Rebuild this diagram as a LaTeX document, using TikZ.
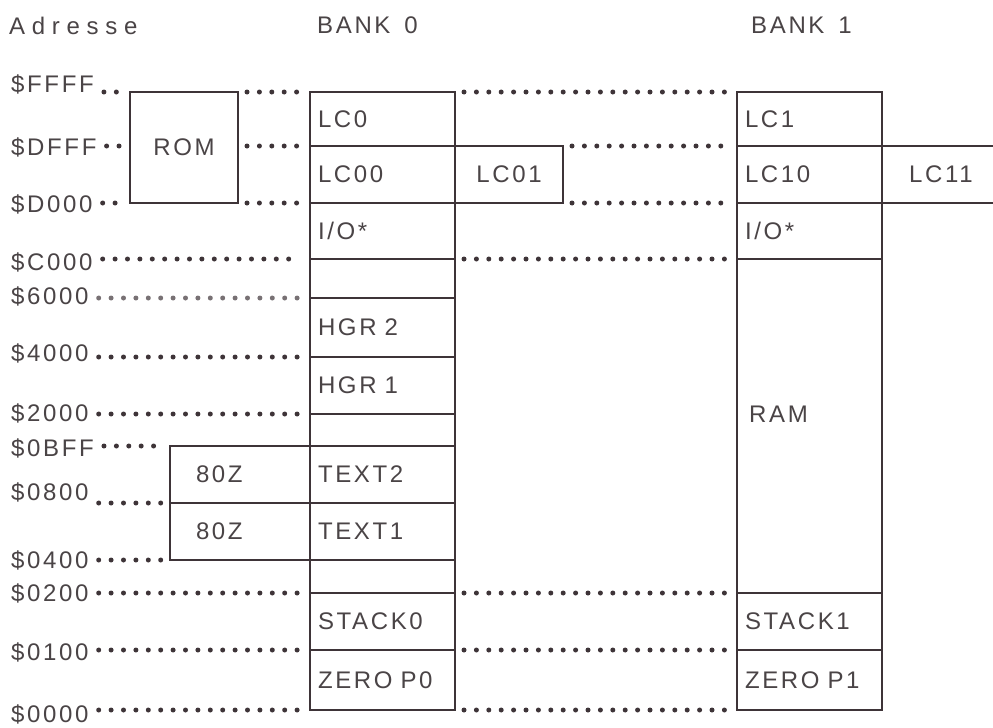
\documentclass[tikz,border=0pt]{standalone}
\usepackage{fontspec}
\setmainfont{Liberation Sans}[LetterSpace=11]
\newfontfamily\wideff{Liberation Sans}[LetterSpace=28]
\newcommand\labfont{\fontsize{24}{28}\selectfont}
\definecolor{lc}{RGB}{62,52,56}
\definecolor{tc}{RGB}{74,68,70}
\begin{document}
\begin{tikzpicture}[x=1pt,y=-1pt]
\tikzset{
 box/.style={draw=lc, line width=2pt, rectangle, inner sep=0pt, outer sep=0pt, font=\labfont, text=tc},
 cell/.style={box, anchor=north west, text width=129pt, inner xsep=8pt, align=left},
 cbox/.style={box, anchor=north west, align=center},
 zbox/.style={box, anchor=north west, minimum width=140pt, minimum height=57pt, text width=88pt, inner xsep=26pt, align=left},
 addr/.style={anchor=west, font=\labfont, text=tc, inner sep=1pt},
 dotl/.style={draw=lc, line width=5pt, line cap=round, dash pattern=on 0pt off 12.4pt, shorten <=9pt, shorten >=9pt},
 rule/.style={draw=lc, line width=2pt},
}
\fill[white] (0,0) rectangle (993,728);
\useasboundingbox (0,0) rectangle (993,728);

% headers
\node[addr, font=\labfont\wideff] (hadr) at (8,26) {Adresse};
\node[addr] (hb0) at (316,25) {BANK\hspace{14pt}0};
\node[addr] (hb1) at (750,25) {BANK\hspace{14pt}1};

% address labels
\node[addr] (aFFFF) at (10,84) {\$FFFF};
\node[addr] (aDFFF) at (10,147) {\$DFFF};
\node[addr] (aD000) at (10,204) {\$D000};
\node[addr] (aC000) at (10,262) {\$C000};
\node[addr] (a6000) at (10,296) {\$6000};
\node[addr] (a4000) at (10,353) {\$4000};
\node[addr] (a2000) at (10,413) {\$2000};
\node[addr] (a0BFF) at (10,448) {\$0BFF};
\node[addr] (a0800) at (10,492) {\$0800};
\node[addr] (a0400) at (10,560) {\$0400};
\node[addr] (a0200) at (10,593) {\$0200};
\node[addr] (a0100) at (10,652) {\$0100};
\node[addr] (a0000) at (10,714) {\$0000};

% bank 0
\node[cell, minimum height=54pt] (b0a) at (310,92) {LC0};
\node[cell, minimum height=57pt] (b0b) at (b0a.south west) {LC00};
\node[cell, minimum height=56pt] (b0c) at (b0b.south west) {I/O*};
\node[cell, minimum height=39pt] (b0d) at (b0c.south west) {};
\node[cell, minimum height=59pt] (b0e) at (b0d.south west) {HGR 2};
\node[cell, minimum height=57pt] (b0f) at (b0e.south west) {HGR 1};
\node[cell, minimum height=32pt] (b0g) at (b0f.south west) {};
\node[cell, minimum height=57pt] (b0h) at (b0g.south west) {TEXT2};
\node[cell, minimum height=57pt] (b0i) at (b0h.south west) {TEXT1};
\node[cell, minimum height=33pt] (b0j) at (b0i.south west) {};
\node[cell, minimum height=57pt] (b0k) at (b0j.south west) {STACK0};
\node[cell, minimum height=60pt] (b0l) at (b0k.south west) {ZERO P0};

% bank 1
\node[cell, minimum height=54pt] (b1a) at (737,92) {LC1};
\node[cell, minimum height=57pt] (b1b) at (b1a.south west) {LC10};
\node[cell, minimum height=56pt] (b1c) at (b1b.south west) {I/O*};
\node[cell, minimum height=334pt] (b1d) at (b1c.south west) {};
\node[addr] (ram) at (748,414) {RAM};
\node[cell, minimum height=57pt] (b1e) at (b1d.south west) {STACK1};
\node[cell, minimum height=60pt] (b1f) at (b1e.south west) {ZERO P1};

% side boxes
\node[cbox, minimum width=108pt, minimum height=111pt] (rom) at (130,92) {ROM};
\node[cbox, minimum width=108pt, minimum height=57pt] (lc01) at (b0b.north east) {LC01};
\node[addr] (lc11) at (908,174.5) {LC11};
\draw[rule] (b1b.north east) -- ++(120,0);
\draw[rule] (b1b.south east) -- ++(120,0);
\node[zbox] (z1) at (170,446) {80Z};
\node[zbox] (z2) at (z1.south west) {80Z};

% dotted lines, left
\draw[dotl] (aFFFF.east |- rom.north west) -- (rom.north west);
\draw[dotl] (aDFFF.east |- b0b.north west) -- (rom.west |- b0b.north west);
\draw[dotl] (aD000.east |- rom.south west) -- (rom.south west);
\draw[dotl] (rom.north east) -- (b0a.north west);
\draw[dotl] (rom.east |- b0b.north west) -- (b0b.north west);
\draw[dotl] (rom.south east) -- (b0c.north west);
\draw[dotl] (aC000.east |- b0d.north west) -- (b0d.north west);
\draw[dotl, draw=lc!70] (a6000.east |- b0e.north west) -- (b0e.north west);
\draw[dotl] (a4000.east |- b0f.north west) -- (b0f.north west);
\draw[dotl] (a2000.east |- b0g.north west) -- (b0g.north west);
\draw[dotl] (a0BFF.east |- z1.north west) -- (z1.north west);
\draw[dotl] (a0800.east |- z1.south west) -- (z1.south west);
\draw[dotl] (a0400.east |- z2.south west) -- (z2.south west);
\draw[dotl] (a0200.east |- b0k.north west) -- (b0k.north west);
\draw[dotl] (a0100.east |- b0l.north west) -- (b0l.north west);
\draw[dotl] (a0000.east |- b0l.south west) -- (b0l.south west);

% dotted lines, between banks
\draw[dotl] (b0a.north east) -- (b1a.north west);
\draw[dotl] (lc01.north east) -- (b1b.north west);
\draw[dotl] (lc01.south east) -- (b1b.south west);
\draw[dotl] (b0c.south east) -- (b1c.south west);
\draw[dotl] (b0k.north east) -- (b1e.north west);
\draw[dotl] (b0l.north east) -- (b1f.north west);
\draw[dotl] (b0l.south east) -- (b1f.south west);
\end{tikzpicture}
\end{document}
